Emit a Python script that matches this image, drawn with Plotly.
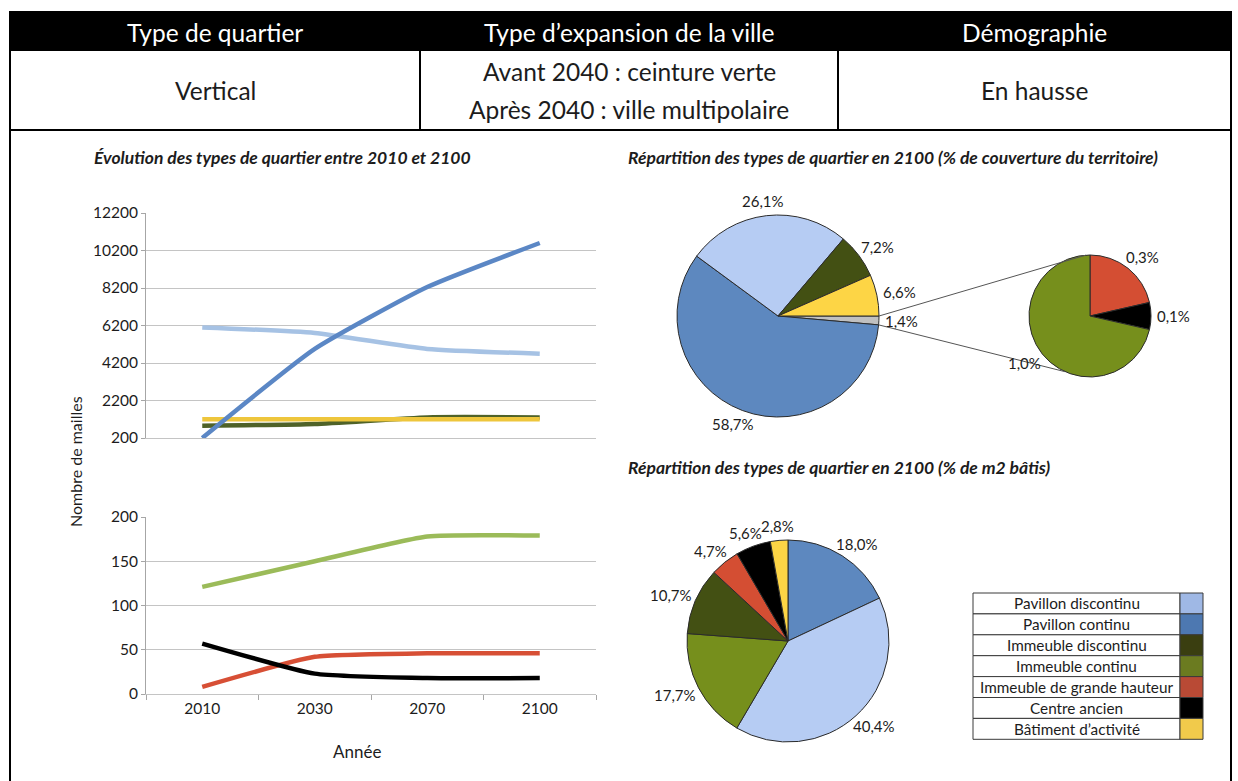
import math
import plotly.graph_objects as go

W, H = 1238, 781
FONT = "Lato"
INK = "#1c1c1c"

# ---------------------------------------------------------------- data
years = ["2010", "2030", "2070", "2100"]

# Nombre de mailles, grandes catégories
pavillon_discontinu = [6100, 5800, 4950, 4700]
pavillon_continu = [200, 4950, 8250, 10600]
immeuble_discontinu = [850, 950, 1300, 1300]
batiment_activite = [1200, 1200, 1200, 1200]

# Nombre de mailles, petites catégories
immeuble_continu = [121, 150, 178, 179]
grande_hauteur = [8, 42, 46, 46]
centre_ancien = [57, 23, 18, 18]

# Couverture du territoire en 2100 (%), dans le sens horaire depuis 3 h
couverture_labels = ["Autres", "Pavillon continu", "Pavillon discontinu",
                     "Immeuble discontinu", "Bâtiment d’activité"]
couverture_values = [1.4, 58.7, 26.1, 7.2, 6.6]
autres_labels = ["Immeuble de grande hauteur", "Centre ancien", "Immeuble continu"]
autres_values = [0.3, 0.1, 1.0]

# m2 bâtis en 2100 (%), dans le sens horaire depuis midi
bati_labels = ["Pavillon continu", "Pavillon discontinu", "Immeuble continu",
               "Immeuble discontinu", "Immeuble de grande hauteur", "Centre ancien",
               "Bâtiment d’activité"]
bati_values = [18.0, 40.4, 17.7, 10.7, 4.7, 5.6, 2.8]

# Tableau d'en-tête
header_cols = ["Type de quartier", "Type d’expansion de la ville", "Démographie"]
header_vals = [["Vertical"], ["Avant 2040 : ceinture verte", "Après 2040 : ville multipolaire"],
               ["En hausse"]]

legend_labels = ["Pavillon discontinu", "Pavillon continu", "Immeuble discontinu",
                 "Immeuble continu", "Immeuble de grande hauteur", "Centre ancien",
                 "Bâtiment d’activité"]

# ---------------------------------------------------------------- colours
line_colors = {
    "Pavillon discontinu": "#A6C2E4",
    "Pavillon continu": "#5B87C5",
    "Immeuble discontinu": "#4F6228",
    "Bâtiment d’activité": "#EEC63C",
    "Immeuble continu": "#9BBB59",
    "Immeuble de grande hauteur": "#D74F35",
    "Centre ancien": "#000000",
}
pie_colors = {
    "Pavillon discontinu": "#B6CCF3",
    "Pavillon continu": "#5D88BF",
    "Immeuble discontinu": "#435013",
    "Immeuble continu": "#768F1C",
    "Immeuble de grande hauteur": "#D44E33",
    "Centre ancien": "#000000",
    "Bâtiment d’activité": "#FDD545",
    "Autres": "#C0C0C0",
}
legend_colors = {
    "Pavillon discontinu": "#9FB8E5",
    "Pavillon continu": "#4D78B1",
    "Immeuble discontinu": "#3A3E10",
    "Immeuble continu": "#6B7B20",
    "Immeuble de grande hauteur": "#B94A35",
    "Centre ancien": "#000000",
    "Bâtiment d’activité": "#F1CA4B",
}


def px(x):
    return x / W


def py(y):
    return 1 - y / H


def pct(v):
    return f"{v:.1f}".replace(".", ",") + "%"


def text(t, x, y, size, color=INK, xanchor="center", yanchor="middle", **font):
    return dict(text=t, x=px(x), y=py(y), xref="paper", yref="paper", showarrow=False,
                xanchor=xanchor, yanchor=yanchor,
                font=dict(family=FONT, size=size, color=color, **font))


fig = go.Figure()
shapes = []
annotations = []

# ---------------------------------------------------------------- header table
BL, BR, BT, BH, BROW = 10, 1231, 11, 51, 130
COLS = [BL, 420, 838, BR]
shapes.append(dict(type="rect", xref="paper", yref="paper", x0=px(BL), x1=px(BR),
                   y0=py(BH), y1=py(BT), fillcolor="black", line=dict(width=0)))
for x in (BL, BR):
    shapes.append(dict(type="line", xref="paper", yref="paper", x0=px(x), x1=px(x),
                       y0=py(BT), y1=0, line=dict(color="black", width=2)))
for x in COLS[1:-1]:
    shapes.append(dict(type="line", xref="paper", yref="paper", x0=px(x), x1=px(x),
                       y0=py(BT), y1=py(BROW), line=dict(color="black", width=2)))
shapes.append(dict(type="line", xref="paper", yref="paper", x0=px(BL), x1=px(BR),
                   y0=py(BROW), y1=py(BROW), line=dict(color="black", width=2)))

for i, (title, vals) in enumerate(zip(header_cols, header_vals)):
    cx = (COLS[i] + COLS[i + 1]) / 2
    annotations.append(text(title, cx, (BT + BH) / 2 + 1, 24.5, color="white"))
    mid = (BH + BROW) / 2
    step = 38
    for k, v in enumerate(vals):
        yy = mid + (k - (len(vals) - 1) / 2) * step
        annotations.append(text(v, cx, yy, 24.5))

# ---------------------------------------------------------------- line charts
PX0, PX1 = 146, 596
TOP_Y0, TOP_Y1 = 213, 438
BOT_Y0, BOT_Y1 = 517, 694
GRID = "#C4C4C4"
AXIS = "#A6A6A6"

top_series = [("Pavillon discontinu", pavillon_discontinu),
              ("Immeuble discontinu", immeuble_discontinu),
              ("Bâtiment d’activité", batiment_activite),
              ("Pavillon continu", pavillon_continu)]
bottom_series = [("Immeuble continu", immeuble_continu),
                 ("Immeuble de grande hauteur", grande_hauteur),
                 ("Centre ancien", centre_ancien)]

for name, vals in top_series:
    fig.add_trace(go.Scatter(x=years, y=vals, name=name, mode="lines", xaxis="x", yaxis="y",
                             line=dict(color=line_colors[name], width=4.5, shape="spline",
                                       smoothing=0.5),
                             showlegend=False))
for name, vals in bottom_series:
    fig.add_trace(go.Scatter(x=years, y=vals, name=name, mode="lines", xaxis="x2", yaxis="y2",
                             line=dict(color=line_colors[name], width=4.5, shape="spline",
                                       smoothing=0.5),
                             showlegend=False))

tickfont = dict(family=FONT, size=15.5, color=INK)
xcommon = dict(type="category", range=[-0.5, 3.5], domain=[px(PX0), px(PX1)],
               showgrid=False, zeroline=False, showline=True, linecolor=GRID, linewidth=1,
               fixedrange=True, tickfont=tickfont, automargin=False)
ycommon = dict(showgrid=True, gridcolor=GRID, gridwidth=1, zeroline=False, showline=True,
               linecolor=AXIS, linewidth=1, ticks="outside", ticklen=4, tickcolor=AXIS,
               tickformat="d", fixedrange=True, tickfont=tickfont, automargin=False)

fig.update_layout(
    xaxis=dict(xcommon, anchor="y", showticklabels=False, ticks=""),
    yaxis=dict(ycommon, anchor="x", domain=[py(TOP_Y1), py(TOP_Y0)], range=[200, 12200],
               tick0=200, dtick=2000),
    xaxis2=dict(xcommon, anchor="y2", ticks="outside", tickson="boundaries", ticklen=5,
                tickcolor=AXIS),
    yaxis2=dict(ycommon, anchor="x2", domain=[py(BOT_Y1), py(BOT_Y0)], range=[0, 200],
                tick0=0, dtick=50),
)

TITLE_FONT = dict(style="italic", weight="bold")
TITLE_SIZE = 17.5
annotations.append(text("Évolution des types de quartier entre 2010 et 2100", 92, 158,
                        TITLE_SIZE, xanchor="left", **TITLE_FONT))
annotations.append(dict(text(("Nombre de mailles"), 75, 462, 16), textangle=-90))
annotations.append(text("Année", 357, 751, 17))

# ---------------------------------------------------------------- pies
OUTLINE = "#2b2b2b"
LABEL_SIZE = 15


def add_pie(labels, values, cx, cy, r, rotation):
    fig.add_trace(go.Pie(
        labels=labels, values=values, sort=False, rotation=rotation, direction="clockwise",
        textinfo="none", showlegend=False, automargin=False,
        marker=dict(colors=[pie_colors[l] for l in labels], line=dict(color=OUTLINE, width=1)),
        domain=dict(x=[px(cx - r), px(cx + r)], y=[py(cy + r), py(cy - r)]),
    ))


def slice_angles(values, rotation):
    """Start/end angles of each clockwise slice, in degrees counter-clockwise from 3 o'clock."""
    total = sum(values)
    out, cum = [], 0.0
    for v in values:
        a0 = rotation + cum / total * 360
        cum += v
        a1 = rotation + cum / total * 360
        out.append((90 - a0, 90 - a1))
    return out


def pie_labels(values, cx, cy, r, rotation, gap=6):
    for v, (a0, a1) in zip(values, slice_angles(values, rotation)):
        m = math.radians((a0 + a1) / 2)
        c, s = math.cos(m), math.sin(m)
        t = pct(v)
        w, h = len(t) * 8.4, 17
        x = cx + (r + gap) * c + c * w / 2
        y = cy - (r + gap) * s - s * h / 2
        annotations.append(text(t, x, y, LABEL_SIZE))


# couverture du territoire
P1 = dict(cx=778, cy=316, r=101, rotation=90)
add_pie(couverture_labels, couverture_values, **P1)
pie_labels(couverture_values, **P1)

P2 = dict(cx=1090, cy=316, r=61, rotation=0)
add_pie(autres_labels, autres_values, **P2)
pie_labels(autres_values, **P2)

# connector lines from the "Autres" slice to the secondary pie
a_start, a_end = slice_angles(couverture_values, P1["rotation"])[0]
for a1, a2 in ((a_start, 94), (a_end, 246)):
    x1 = P1["cx"] + P1["r"] * math.cos(math.radians(a1))
    y1 = P1["cy"] - P1["r"] * math.sin(math.radians(a1))
    x2 = P2["cx"] + P2["r"] * math.cos(math.radians(a2))
    y2 = P2["cy"] - P2["r"] * math.sin(math.radians(a2))
    shapes.append(dict(type="line", xref="paper", yref="paper", x0=px(x1), y0=py(y1),
                       x1=px(x2), y1=py(y2), line=dict(color="#555555", width=1)))

annotations.append(text("Répartition des types de quartier en 2100 (% de couverture du territoire)",
                        626, 158, TITLE_SIZE, xanchor="left", **TITLE_FONT))

# m2 bâtis
P3 = dict(cx=788, cy=641, r=101, rotation=0)
add_pie(bati_labels, bati_values, **P3)
pie_labels(bati_values, **P3)

annotations.append(text("Répartition des types de quartier en 2100 (% de m2 bâtis)",
                        626, 467, TITLE_SIZE, xanchor="left", **TITLE_FONT))

# ---------------------------------------------------------------- legend table
LX0, LX1, LXS = 973, 1203, 1180
LY0, LROW = 593, 20.9
for i, name in enumerate(legend_labels):
    y0 = LY0 + i * LROW
    y1 = y0 + LROW
    shapes.append(dict(type="rect", xref="paper", yref="paper", x0=px(LX0), x1=px(LXS),
                       y0=py(y1), y1=py(y0), line=dict(color="#3a3a3a", width=1),
                       fillcolor="white"))
    shapes.append(dict(type="rect", xref="paper", yref="paper", x0=px(LXS), x1=px(LX1),
                       y0=py(y1), y1=py(y0), line=dict(color="#3a3a3a", width=1),
                       fillcolor=legend_colors[name]))
    annotations.append(text(name, (LX0 + LXS) / 2, (y0 + y1) / 2, 15.3))

fig.update_layout(
    width=W, height=H,
    margin=dict(l=0, r=0, t=0, b=0, autoexpand=False),
    paper_bgcolor="white", plot_bgcolor="white",
    shapes=shapes, annotations=annotations,
    font=dict(family=FONT, color=INK),
)

fig.write_html("out.html")
